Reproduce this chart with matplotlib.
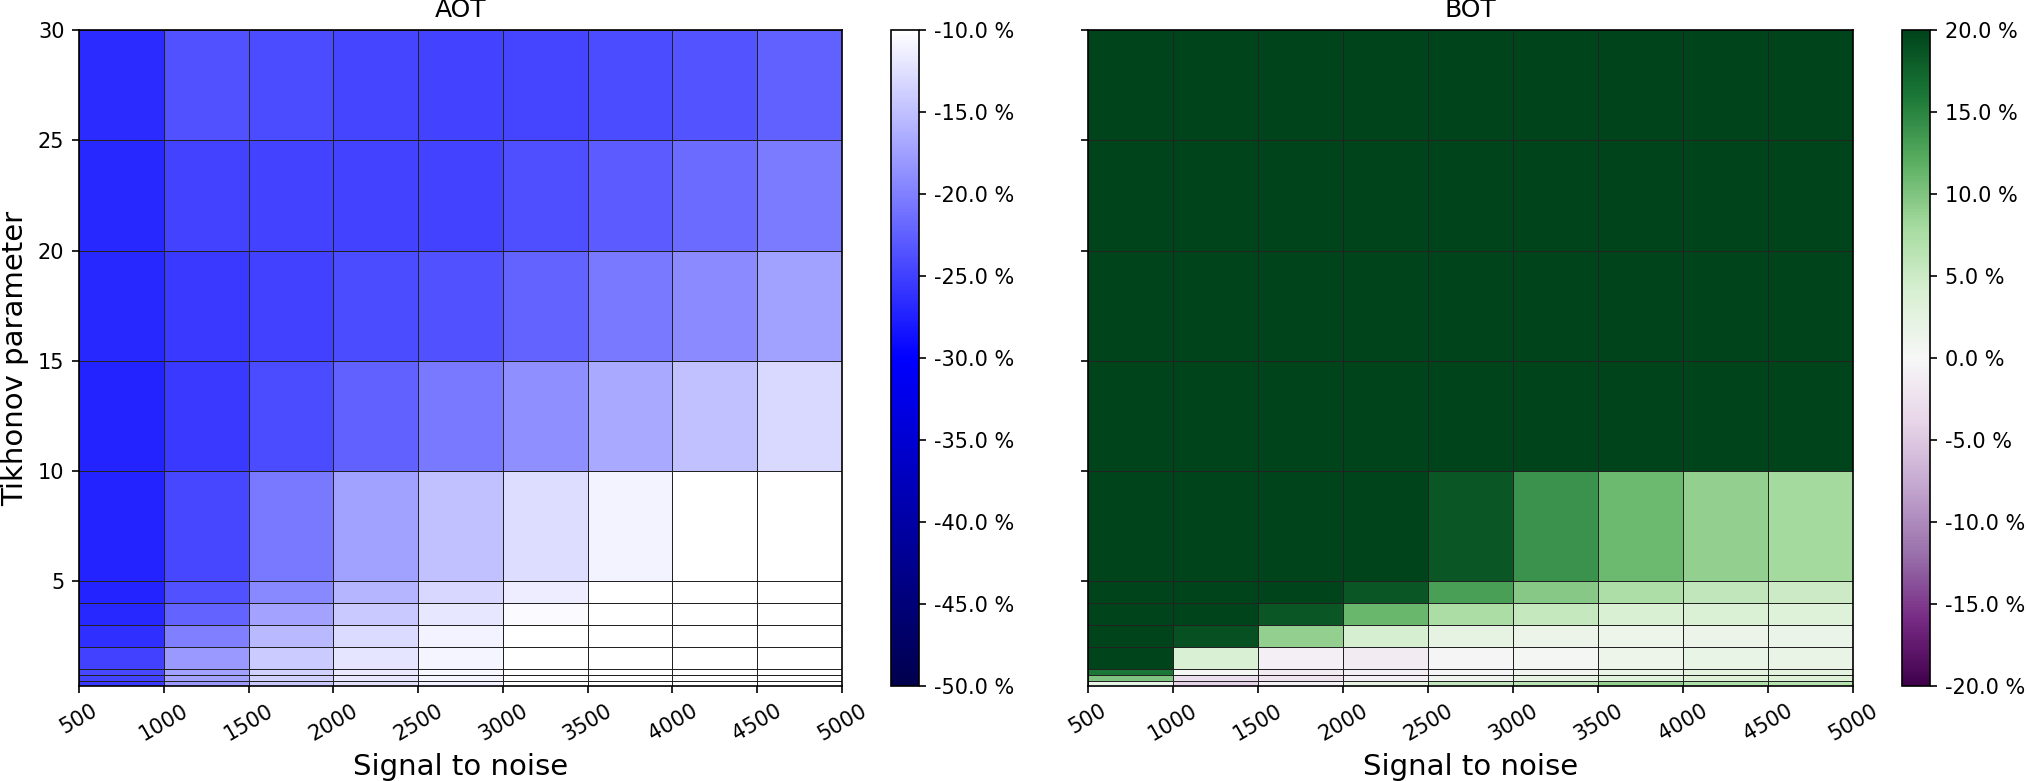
import numpy as np
import matplotlib
matplotlib.use("Agg")
import matplotlib.pyplot as plt
from matplotlib.colors import LinearSegmentedColormap
from matplotlib.ticker import FormatStrFormatter

# x edges: signal to noise, y edges: Tikhonov parameter
snr_edges = [500, 1000, 1500, 2000, 2500, 3000, 3500, 4000, 4500, 5000]
tik_edges = [0.25, 0.5, 0.75, 1, 2, 3, 4, 5, 10, 15, 20, 25, 30]
x_ticks = [500, 1000, 1500, 2000, 2500, 3000, 3500, 4000, 4500, 5000]
y_ticks = [5, 10, 15, 20, 25, 30]

# AOT relative error (%) rows from bottom (0.25-0.5) to top (25-30)
aot = [
    [-25.5, -18.0, -14.3, -12.4, -11.2, -10.0, -9.8, -9.7, -9.7],
    [-24.7, -17.2, -13.6, -11.9, -10.9, -9.9, -9.8, -9.7, -9.7],
    [-24.4, -17.5, -13.7, -11.8, -10.7, -9.9, -9.8, -9.7, -9.7],
    [-25.0, -18.0, -14.2, -12.1, -10.9, -9.9, -9.8, -9.7, -9.7],
    [-26.4, -20.1, -15.6, -12.9, -11.0, -9.9, -9.8, -9.7, -9.7],
    [-27.0, -22.3, -17.3, -14.3, -12.0, -10.4, -9.8, -9.7, -9.7],
    [-27.2, -23.7, -19.3, -15.9, -13.2, -11.5, -9.9, -9.7, -9.7],
    [-27.2, -24.4, -20.6, -17.5, -14.9, -12.7, -11.0, -9.9, -9.8],
    [-27.2, -25.6, -24.2, -22.5, -20.6, -18.9, -16.8, -14.9, -13.1],
    [-27.0, -25.5, -25.0, -24.2, -23.6, -22.2, -20.6, -19.2, -17.5],
    [-27.0, -24.7, -24.7, -24.7, -24.8, -23.8, -22.9, -21.7, -20.4],
    [-26.7, -23.7, -24.2, -24.6, -24.8, -24.6, -24.2, -23.5, -22.5],
]

# BOT relative error (%) rows from bottom to top
bot = [
    [2.0, -4.2, -0.6, 2.2, 5.8, 6.5, 9.0, 7.3, 6.8],
    [10.0, -2.8, -2.2, -0.8, 1.0, 2.2, 3.0, 3.5, 3.5],
    [16.0, 0.2, -1.3, -0.9, -0.4, 0.8, 1.8, 2.6, 2.6],
    [22.0, 3.9, -0.8, -1.3, -0.3, 0.6, 1.3, 2.0, 1.8],
    [22.0, 19.0, 9.0, 4.2, 2.3, 1.5, 1.4, 1.5, 1.7],
    [22.0, 22.0, 18.5, 11.2, 7.6, 5.5, 4.0, 3.6, 3.4],
    [22.0, 22.0, 21.0, 18.5, 13.1, 9.6, 7.4, 5.9, 5.0],
    [22.0, 22.0, 22.0, 21.0, 18.5, 14.0, 11.0, 9.0, 8.0],
    [25.0, 25.0, 25.0, 25.0, 25.0, 25.0, 25.0, 25.0, 25.0],
    [25.0, 25.0, 25.0, 25.0, 25.0, 25.0, 25.0, 25.0, 25.0],
    [25.0, 25.0, 25.0, 25.0, 25.0, 25.0, 25.0, 25.0, 25.0],
    [25.0, 25.0, 25.0, 25.0, 25.0, 25.0, 25.0, 25.0, 25.0],
]

aot_cmap = LinearSegmentedColormap.from_list(
    "seismic_low", [(0, 0, 0.3), (0, 0, 1), (1, 1, 1)])
bot_cmap = plt.get_cmap("PRGn")

fig = plt.figure(figsize=(2026 / 150, 781 / 150), dpi=150)
ax1 = fig.add_axes([0.039, 0.1216, 0.3766, 0.84])
cax1 = fig.add_axes([0.4398, 0.1216, 0.0138, 0.84])
ax2 = fig.add_axes([0.537, 0.1216, 0.3776, 0.84])
cax2 = fig.add_axes([0.9388, 0.1216, 0.0138, 0.84])

m1 = ax1.pcolormesh(snr_edges, tik_edges, np.array(aot), cmap=aot_cmap,
                    vmin=-50, vmax=-10, edgecolors="#222222", linewidth=0.4)
m2 = ax2.pcolormesh(snr_edges, tik_edges, np.array(bot), cmap=bot_cmap,
                    vmin=-20, vmax=20, edgecolors="#222222", linewidth=0.4)

for ax, title in [(ax1, "AOT"), (ax2, "BOT")]:
    ax.set_title(title, fontsize=12)
    ax.set_xticks(x_ticks)
    ax.set_yticks(y_ticks)
    ax.set_xlim(snr_edges[0], snr_edges[-1])
    ax.set_ylim(tik_edges[0], tik_edges[-1])
    ax.tick_params(axis="x", labelrotation=30, labelsize=10)
    ax.tick_params(axis="y", labelsize=10)
    ax.set_xlabel("Signal to noise", fontsize=14)

ax1.set_ylabel("Tikhonov parameter", fontsize=14)
ax2.set_yticklabels([])

cb1 = fig.colorbar(m1, cax=cax1, ticks=np.arange(-50, -9, 5))
cb1.ax.yaxis.set_major_formatter(FormatStrFormatter("%.1f %%"))
cb1.ax.tick_params(labelsize=10)
cb2 = fig.colorbar(m2, cax=cax2, ticks=np.arange(-20, 21, 5))
cb2.ax.yaxis.set_major_formatter(FormatStrFormatter("%.1f %%"))
cb2.ax.tick_params(labelsize=10)

fig.savefig("out.png", dpi=150)
